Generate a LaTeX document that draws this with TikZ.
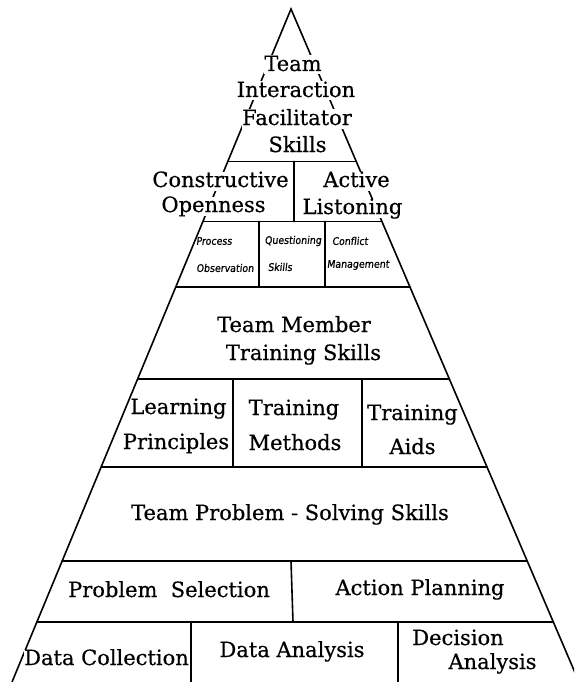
\documentclass[tikz,border=0pt]{standalone}
\usepackage{fontspec}
\usetikzlibrary{calc}
\newfontfamily\typedfont{DejaVu Serif}[FakeBold=0.5]
\newfontfamily\handfont{DejaVu Sans Condensed}[FakeSlant=0.12,FakeBold=0.8]
\begin{document}
\begin{tikzpicture}[x=1pt,y=-1pt,
  edge/.style={line width=1.6pt, line cap=round},
  lbl/.style={font=\typedfont\fontsize{21}{24}\selectfont, inner sep=0.5pt, fill=white, text height=15pt, text depth=3pt},
  hand/.style={font=\handfont\fontsize{10.5}{12}\selectfont, inner sep=0pt}]
\useasboundingbox (0,0) rectangle (574,682);
\clip (0,0) rectangle (574,682);

% outline of the pyramid
\coordinate (apex) at (291,9);
\coordinate (bl) at (12,682);
\coordinate (br) at (579,682);
\draw[edge] (bl) -- (apex) -- (br);

% tier boundaries, running from side to side
\foreach \y/\n in {161.5/a,221.5/b,287/c,379/d,467/e,561/f,622/g}{
  \coordinate (L\n) at ($(apex)!{(\y-9)/673}!(bl)$);
  \coordinate (R\n) at ($(apex)!{(\y-9)/673}!(br)$);
  \draw[edge] (L\n) -- (R\n);
}

% dividers inside the tiers
\draw[edge] (294,161.5) -- (294,221.5);
\draw[edge] (259,221.5) -- (259,287);
\draw[edge] (325,221.5) -- (325,287);
\draw[edge] (233,379) -- (233,467);
\draw[edge] (362,379) -- (362,467);
\draw[edge] (291,561) -- (293,622);
\draw[edge] (191,622) -- (191,682);
\draw[edge] (398,622) -- (398,682);

% top tier
\node[lbl] (t1) at (293,65) {Team};
\node[lbl] (t2) at (296,91) {Interaction};
\node[lbl] (t3) at (297,119) {Facilitator};
\node[lbl] (t4) at (297.5,146) {Skills};

% second tier
\node[lbl] (co1) at (220.5,181) {Constructive};
\node[lbl] (co2) at (213.5,206) {Openness};
\node[lbl] (al1) at (356.5,181) {Active};
\node[lbl] (al2) at (352.5,208) {Listoning};

% third tier, hand lettered
\node[hand] (po1) at (214,241) {Process};
\node[hand] (po2) at (225,268) {Observation};
\node[hand] (qs1) at (293,241) {Questioning};
\node[hand] (qs2) at (280,267) {Skills};
\node[hand] (cm1) at (350,241) {Conflict};
\node[hand] (cm2) at (358,265) {Management};

% team member training
\node[lbl] (tm1) at (294,326) {Team Member};
\node[lbl] (tm2) at (303.5,354) {Training Skills};
\node[lbl] (lp1) at (178.5,408) {Learning};
\node[lbl] (lp2) at (176,443) {Principles};
\node[lbl] (tr1) at (294,409) {Training};
\node[lbl] (tr2) at (295,444) {Methods};
\node[lbl] (ta1) at (412.5,414) {Training};
\node[lbl] (ta2) at (412.5,448) {Aids};

% problem solving
\node[lbl] (ps) at (290,514) {Team Problem - Solving Skills};
\node[lbl] (sel) at (169,591) {Problem\ \ Selection};
\node[lbl] (act) at (420,589) {Action Planning};
\node[lbl] (dc) at (106.5,659) {Data Collection};
\node[lbl] (da) at (292,651) {Data Analysis};
\node[lbl] (de1) at (458,639) {Decision};
\node[lbl] (de2) at (492.5,663) {Analysis};
\end{tikzpicture}
\end{document}
